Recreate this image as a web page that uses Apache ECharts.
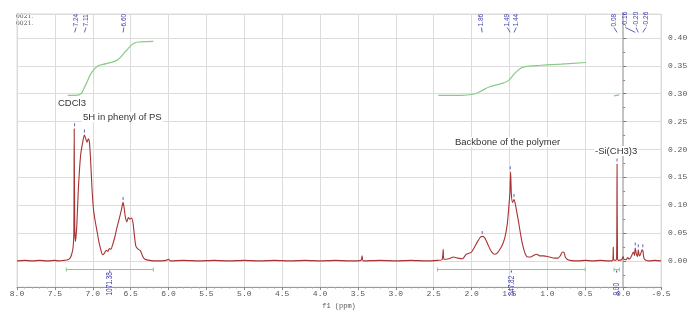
<!DOCTYPE html>
<html>
<head>
<meta charset="utf-8">
<script src="https://cdn.jsdelivr.net/npm/echarts@6/dist/echarts.min.js"></script>
<style>
html,body{margin:0;padding:0;background:#fff;}
#chart{width:700px;height:315px;}
</style>
</head>
<body>
<div id="chart"></div>
<script>
// ---------- data ----------
const xTicks = [8.0, 7.5, 7.0, 6.5, 6.0, 5.5, 5.0, 4.5, 4.0, 3.5, 3.0, 2.5, 2.0, 1.5, 1.0, 0.5, 0.0, -0.5];
const yTicks = [0.00, 0.05, 0.10, 0.15, 0.20, 0.25, 0.30, 0.35, 0.40];

// 1H NMR spectrum [ppm, intensity]
const spectrumAromatic = [
  [8.00,0.000],[7.90,0.001],[7.80,0.000],[7.70,0.001],[7.60,0.000],[7.50,0.001],[7.45,0.000],[7.38,0.001],
  [7.33,0.002],[7.30,0.005],[7.28,0.011],[7.26,0.024],[7.25,0.048],[7.245,0.237],[7.238,0.060],[7.228,0.035],
  [7.21,0.065],[7.19,0.130],[7.16,0.190],[7.13,0.215],[7.11,0.226],[7.09,0.218],[7.075,0.213],[7.06,0.219],
  [7.045,0.214],[7.03,0.185],[7.01,0.130],[6.99,0.092],[6.97,0.073],[6.95,0.058],[6.92,0.035],[6.89,0.018],
  [6.87,0.011],[6.85,0.013],[6.82,0.019],[6.80,0.017],[6.78,0.022],[6.76,0.021],[6.74,0.028],[6.71,0.042],
  [6.68,0.060],[6.65,0.076],[6.62,0.093],[6.60,0.105],[6.585,0.094],[6.57,0.079],[6.55,0.070],[6.53,0.078],
  [6.51,0.075],[6.49,0.077],[6.47,0.069],[6.45,0.045],[6.43,0.026],[6.40,0.021],[6.37,0.018],[6.34,0.008],
  [6.31,0.003],[6.25,0.001],[6.15,0.000],[6.03,0.001],[6.00,0.003],[5.98,0.000],[5.80,0.001],[5.60,0.000],
  [5.40,0.001],[5.20,0.000],[5.00,0.001],[4.80,0.000],[4.60,0.001],[4.40,0.000],[4.20,0.001],[4.00,0.000],
  [3.80,0.001],[3.60,0.000],[3.46,0.001],[3.445,0.009],[3.43,0.000]
];
const spectrumAliphatic = [
  [3.20,0.001],[3.00,0.000],[2.80,0.001],[2.60,0.000],[2.45,0.001],[2.39,0.002],[2.375,0.021],[2.365,0.003],
  [2.30,0.004],[2.24,0.007],[2.18,0.005],[2.12,0.004],[2.07,0.012],[2.03,0.014],[2.00,0.016],[1.96,0.025],
  [1.92,0.035],[1.88,0.043],[1.85,0.044],[1.82,0.040],[1.78,0.028],[1.74,0.017],[1.70,0.012],[1.67,0.013],
  [1.63,0.020],[1.59,0.030],[1.56,0.042],[1.53,0.065],[1.51,0.095],[1.495,0.120],[1.485,0.160],[1.475,0.120],
  [1.46,0.105],[1.44,0.110],[1.42,0.100],[1.40,0.085],[1.38,0.070],[1.35,0.045],[1.32,0.025],[1.29,0.012],
  [1.26,0.007],[1.22,0.007],[1.18,0.010],[1.14,0.012],[1.10,0.009],[1.05,0.009],[1.00,0.008],[0.95,0.006],
  [0.90,0.005],[0.86,0.005],[0.83,0.009],[0.80,0.016],[0.78,0.015],[0.76,0.006],[0.73,0.002],[0.70,0.001],
  [0.60,0.000],[0.50,0.001],[0.40,0.000],[0.30,0.001],[0.20,0.000],[0.15,0.000],[0.135,0.002],[0.13,0.025],
  [0.125,0.002],[0.10,0.001],[0.086,0.004],[0.08,0.174],[0.074,0.004],[0.06,0.001],[0.02,0.002],[0.00,0.008],
  [-0.01,0.003],[-0.04,0.002],[-0.06,0.006],[-0.08,0.003],[-0.10,0.006],[-0.12,0.012],[-0.135,0.016],[-0.15,0.010],
  [-0.16,0.023],[-0.175,0.012],[-0.19,0.008],[-0.20,0.020],[-0.215,0.009],[-0.23,0.012],[-0.25,0.020],[-0.26,0.019],
  [-0.275,0.005],[-0.30,0.001],[-0.35,0.000],[-0.42,0.001],[-0.50,0.000]
];

// integral curves [ppm, value]
const integral1 = [[7.33,0.297],[7.18,0.298],[7.10,0.314],[7.02,0.337],[6.93,0.350],[6.82,0.354],[6.67,0.361],[6.56,0.377],[6.45,0.391],[6.36,0.393],[6.20,0.394]];
const integral2 = [[2.44,0.297],[2.14,0.297],[1.98,0.299],[1.87,0.305],[1.77,0.312],[1.61,0.318],[1.52,0.323],[1.44,0.335],[1.37,0.344],[1.31,0.348],[1.08,0.351],[0.82,0.353],[0.49,0.356]];
const integral3 = [[0.12,0.296],[0.05,0.298]];

// integration ranges and values
const intStart = [7.35, 2.45, 0.12];
const intEnd   = [6.20, 0.50, 0.05];
const intText  = ['1071.38', '847.82', '9.00'];

// picked peaks
const peakPpm    = [7.24, 7.11, 6.60, 1.86, 1.49, 1.44, 0.08, -0.16, -0.20, -0.26];
const peakHeight = [0.237, 0.226, 0.105, 0.044, 0.160, 0.110, 0.174, 0.023, 0.020, 0.020];
const peakText   = ['7.24', '7.11', '6.60', '1.86', '1.49', '1.44', '0.08', '-0.16', '-0.20', '-0.26'];
const peakLabelAt= [7.22, 7.09, 6.59, 1.87, 1.53, 1.41, 0.12, -0.03, -0.17, -0.30];

const annotations = ['CDCl3', '5H in phenyl of PS', 'Backbone of the polymer', '-Si(CH3)3'];

// ---------- styles ----------
const RED = '#a83232';
const GREEN = '#86cc86';
const BLUE = '#3c3caa';
const GRID = '#dcdcdc';
const MONO = '"Liberation Mono", "DejaVu Sans Mono", monospace';
const SANS = '"Liberation Sans", Arial, sans-serif';

const chart = echarts.init(document.getElementById('chart'), null, {renderer: 'canvas'});

const LABEL_BASE = 0.4187;
const LEADER_END = 0.410;
const BAR_Y = -0.0155;

function renderPeakLabel(params, api) {
  const i = params.dataIndex;
  const a = api.coord([api.value(0), LABEL_BASE]);
  const b = api.coord([api.value(1), LEADER_END]);
  return {
    type: 'group',
    children: [
      {type: 'text', x: a[0], y: a[1] - 1, rotation: Math.PI / 2,
       style: {text: peakText[i], fill: BLUE, font: '6.5px ' + SANS, align: 'left', verticalAlign: 'middle'}},
      {type: 'line', shape: {x1: a[0], y1: a[1], x2: b[0], y2: b[1]},
       style: {stroke: BLUE, lineWidth: 0.8}}
    ]
  };
}

function renderIntBar(params, api) {
  const i = params.dataIndex;
  const s = api.value(0), e = api.value(1);
  const p1 = api.coord([s, BAR_Y]);
  const p2 = api.coord([e, BAR_Y]);
  const pm = api.coord([(s + e) / 2, BAR_Y]);
  return {
    type: 'group',
    children: [
      {type: 'line', shape: {x1: p1[0], y1: p1[1], x2: p2[0], y2: p2[1]}, style: {stroke: GREEN, lineWidth: 1}},
      {type: 'line', shape: {x1: p1[0], y1: p1[1] - 2, x2: p1[0], y2: p1[1] + 2}, style: {stroke: GREEN, lineWidth: 1}},
      {type: 'line', shape: {x1: p2[0], y1: p2[1] - 2, x2: p2[0], y2: p2[1] + 2}, style: {stroke: GREEN, lineWidth: 1}},
      {type: 'line', shape: {x1: pm[0], y1: pm[1] + 1, x2: pm[0], y2: pm[1] + 3}, style: {stroke: BLUE, lineWidth: 1}},
      {type: 'text', x: pm[0], y: pm[1] + 26, rotation: Math.PI / 2, scaleX: 0.72,
       style: {text: intText[i], fill: BLUE, font: '9px ' + SANS, align: 'left', verticalAlign: 'middle'}}
    ]
  };
}

function annot(text, left, top) {
  return {type: 'text', left: left, top: top, z: 10,
          style: {text: text, font: '9.5px ' + SANS, fill: '#333', backgroundColor: '#fff', padding: [0, 1]}};
}

const option = {
  animation: false,
  backgroundColor: '#fff',
  grid: {left: 17, right: 39, top: 14, bottom: 20, show: true, borderColor: GRID, borderWidth: 1},
  xAxis: {
    type: 'value', inverse: true, min: -0.5, max: 8.0, interval: 0.5,
    axisLine: {show: true, onZero: false, lineStyle: {color: '#999', width: 1}},
    axisTick: {show: true, length: 3, lineStyle: {color: '#888'}},
    minorTick: {show: true, splitNumber: 5, length: 1.5, lineStyle: {color: '#aaa'}},
    axisLabel: {formatter: v => v.toFixed(1), fontFamily: MONO, fontSize: 8, color: '#555', margin: 3},
    splitLine: {show: true, lineStyle: {color: GRID, width: 1}},
    name: 'f1 (ppm)', nameLocation: 'middle', nameGap: 9,
    nameTextStyle: {fontFamily: MONO, fontSize: 7, color: '#555'}
  },
  yAxis: {
    type: 'value', position: 'right', min: -0.047, max: 0.443, splitNumber: 10,
    minInterval: 0.05, maxInterval: 0.05, offset: 5,
    axisLine: {show: true, lineStyle: {color: '#c4c4c4', width: 2}},
    axisTick: {show: true, length: 3, lineStyle: {color: '#777'}},
    minorTick: {show: true, splitNumber: 2, length: 2, lineStyle: {color: '#888'}},
    axisLabel: {showMinLabel: false, showMaxLabel: false, formatter: v => v.toFixed(2),
                fontFamily: MONO, fontSize: 8, color: '#555', margin: 2},
    splitLine: {show: true, lineStyle: {color: GRID, width: 1}}
  },
  graphic: [
    {type: 'text', left: 16, top: 13, style: {text: '0021.', font: '6px "DejaVu Serif", serif', fill: '#555'}},
    {type: 'text', left: 16, top: 20, style: {text: '0021.', font: '6px "DejaVu Serif", serif', fill: '#555'}},
    annot(annotations[0], 57, 98),
    annot(annotations[1], 82, 112),
    annot(annotations[2], 454, 137),
    annot(annotations[3], 594, 146)
  ],
  series: [
    {type: 'line', name: 'spectrum', data: spectrumAromatic.concat(spectrumAliphatic),
     showSymbol: false, smooth: 0.25, lineStyle: {color: RED, width: 1.1}, z: 3},
    {type: 'line', data: integral1, showSymbol: false, smooth: 0.4, lineStyle: {color: GREEN, width: 1.2}, z: 2},
    {type: 'line', data: integral2, showSymbol: false, smooth: 0.4, lineStyle: {color: GREEN, width: 1.2}, z: 2},
    {type: 'line', data: integral3, showSymbol: false, lineStyle: {color: GREEN, width: 1.2}, z: 2},
    {type: 'scatter', data: peakPpm.map((p, i) => [p, peakHeight[i]]), symbol: 'rect', symbolSize: [1, 3],
     symbolOffset: [0, -4], itemStyle: {color: BLUE}, z: 4},
    {type: 'custom', data: peakLabelAt.map((p, i) => [p, peakPpm[i]]), renderItem: renderPeakLabel, z: 5},
    {type: 'custom', data: intStart.map((s, i) => [s, intEnd[i]]), renderItem: renderIntBar, z: 5}
  ]
};
chart.setOption(option);
</script>
</body>
</html>
